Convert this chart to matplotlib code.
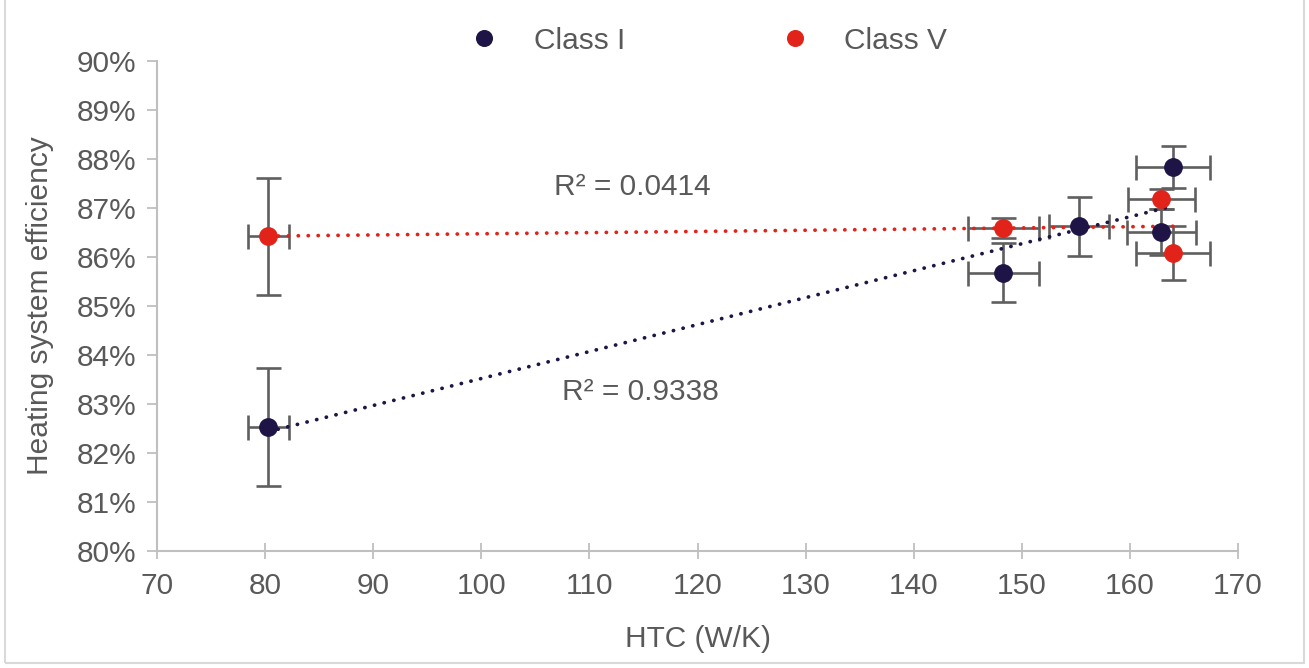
import numpy as np
import matplotlib
matplotlib.use("Agg")
import matplotlib.pyplot as plt
from matplotlib.patches import Rectangle
from matplotlib.ticker import FuncFormatter

plt.rcParams['font.family'] = ['Liberation Sans', 'DejaVu Sans']

# HTC (W/K) and heating system efficiency (%) per dwelling class
class1_htc = [80.3, 148.3, 155.3, 162.9, 164.0]
class1_eff = [82.53, 85.68, 86.63, 86.52, 87.84]
class1_htc_err = [1.9, 3.3, 2.8, 3.2, 3.4]
class1_eff_err = [1.2, 0.6, 0.6, 0.47, 0.43]

class5_htc = [80.3, 148.3, 162.9, 164.0]
class5_eff = [86.42, 86.59, 87.18, 86.08]
class5_htc_err = [1.9, 3.3, 3.1, 3.4]
class5_eff_err = [1.2, 0.2, 0.2, 0.55]

r2_labels = ["R² = 0.9338", "R² = 0.0414"]
series_names = ["Class I", "Class V"]

NAVY = "#1E1446"
RED = "#E2231A"
GREY_TXT = "#595959"
GREY_AX = "#BFBFBF"
ERR = "#5F5F5F"
FS = 21.5

fig = plt.figure(figsize=(13.09, 6.68), dpi=100)
fig.patches.append(Rectangle((0.004, 0.008), 0.992, 1.2, transform=fig.transFigure,
                             fill=False, edgecolor="#D9D9D9", linewidth=1.5))
ax = fig.add_axes([0.12, 0.175, 0.8257, 0.7337])

for htc, eff, xe, ye, col, name in [
    (class1_htc, class1_eff, class1_htc_err, class1_eff_err, NAVY, series_names[0]),
    (class5_htc, class5_eff, class5_htc_err, class5_eff_err, RED, series_names[1]),
]:
    ax.errorbar(htc, eff, xerr=xe, yerr=ye, fmt="none", ecolor=ERR,
                elinewidth=1.9, capsize=9, capthick=1.9, zorder=2)
    ax.plot(htc, eff, "o", color=col, markersize=12.5, zorder=4,
            label=name, linestyle="none")
    # linear trendline over the data range
    coef = np.polyfit(htc, eff, 1)
    xs = np.array([min(htc), max(htc)])
    ax.plot(xs, np.polyval(coef, xs), color=col, linewidth=2.7,
            linestyle=(0, (0.05, 2.6)), dash_capstyle="round", zorder=3)

ax.text(114.7, 83.25, r2_labels[0], fontsize=FS, color=GREY_TXT,
        ha="center", va="center")
ax.text(114.0, 87.43, r2_labels[1], fontsize=FS, color=GREY_TXT,
        ha="center", va="center")

ax.set_xlim(70, 170)
ax.set_ylim(80, 90)
ax.set_xticks(np.arange(70, 171, 10))
ax.set_yticks(np.arange(80, 90.1, 1))
ax.yaxis.set_major_formatter(FuncFormatter(lambda v, p: f"{v:.0f}%"))

for s in ["top", "right"]:
    ax.spines[s].set_visible(False)
for s in ["left", "bottom"]:
    ax.spines[s].set_color(GREY_AX)
    ax.spines[s].set_linewidth(1.5)

ax.tick_params(axis="y", direction="out", length=7, width=1.3, color=GREY_AX,
               labelsize=FS, labelcolor=GREY_TXT, pad=8)
ax.tick_params(axis="x", direction="inout", length=12, width=1.3, color=GREY_AX,
               labelsize=FS, labelcolor=GREY_TXT, pad=9)

ax.set_xlabel("HTC (W/K)", fontsize=FS, color=GREY_TXT, labelpad=18)
ax.set_ylabel("Heating system efficiency", fontsize=FS, color=GREY_TXT, labelpad=16)

leg = ax.legend(loc="center", bbox_to_anchor=(0.510, 1.041), ncol=2,
                frameon=False, fontsize=FS, markerscale=0.9, handletextpad=1.15,
                columnspacing=5.2, handlelength=1.0)
for t in leg.get_texts():
    t.set_color(GREY_TXT)

fig.savefig("out.png", dpi=100)
